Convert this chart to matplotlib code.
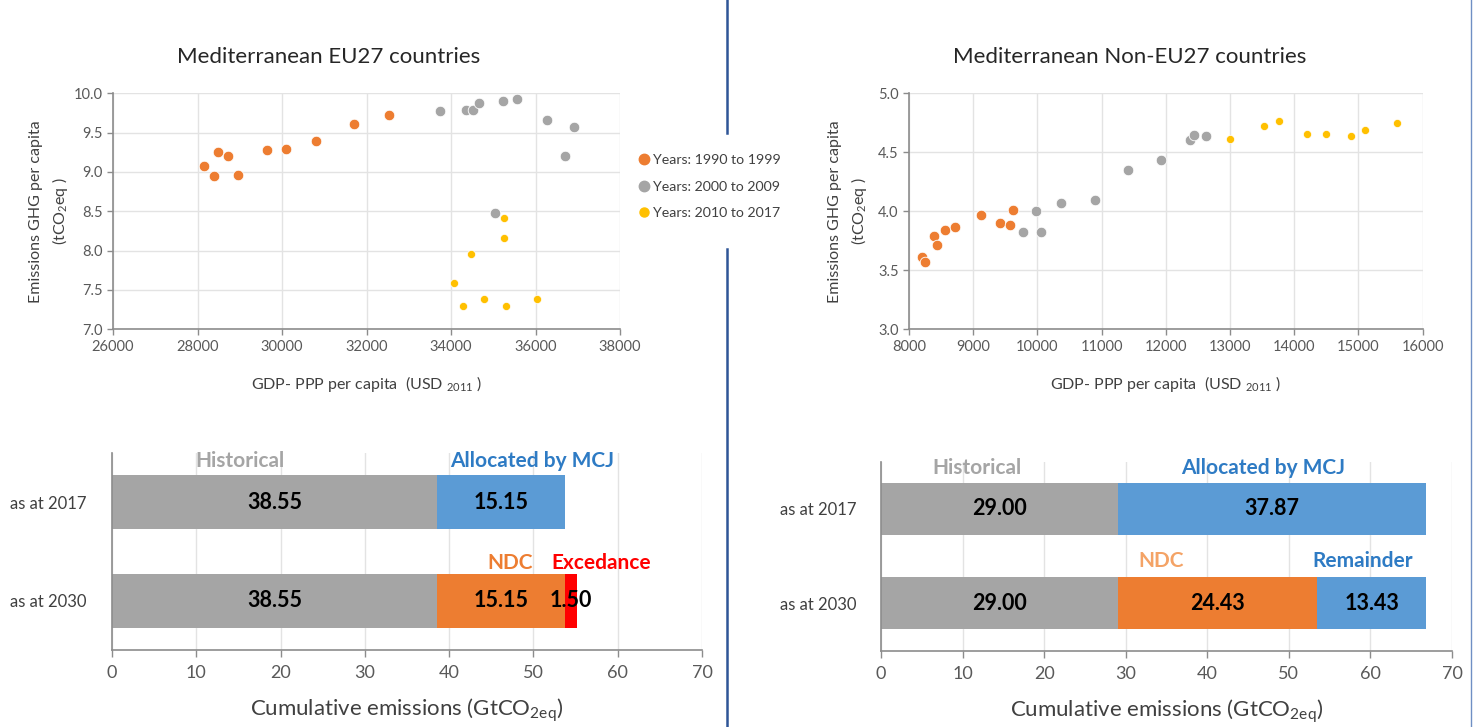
import matplotlib
matplotlib.use("Agg")
import matplotlib.pyplot as plt
from matplotlib.lines import Line2D

plt.rcParams['font.family'] = ['Lato', 'DejaVu Sans']
plt.rcParams['mathtext.fontset'] = 'custom'
plt.rcParams['mathtext.rm'] = 'Lato'
plt.rcParams['mathtext.it'] = 'Lato:italic'
plt.rcParams['mathtext.bf'] = 'Lato:bold'

# ---------------- data ----------------
eu_x_1990 = [28160, 28400, 28490, 28720, 28970, 29640, 30090, 30800, 31700, 32540]
eu_y_1990 = [9.07, 8.95, 9.26, 9.20, 8.96, 9.28, 9.29, 9.39, 9.61, 9.73]
eu_x_2000 = [33740, 34360, 34530, 34670, 35230, 35560, 36280, 36920, 36690, 35050]
eu_y_2000 = [9.78, 9.79, 9.79, 9.88, 9.90, 9.93, 9.66, 9.57, 9.20, 8.48]
eu_x_2010 = [35260, 35260, 34480, 34070, 34280, 34770, 35290, 36040]
eu_y_2010 = [8.42, 8.16, 7.96, 7.59, 7.29, 7.39, 7.29, 7.39]

ne_x_1990 = [8210, 8245, 8385, 8432, 8561, 8717, 9128, 9414, 9580, 9627]
ne_y_1990 = [3.615, 3.573, 3.79, 3.717, 3.844, 3.87, 3.966, 3.898, 3.886, 4.011]
ne_x_2000 = [9777, 9974, 10048, 10364, 10894, 11403, 11918, 12374, 12441, 12623]
ne_y_2000 = [3.827, 4.003, 3.827, 4.068, 4.098, 4.35, 4.432, 4.604, 4.647, 4.641]
ne_x_2010 = [12993, 13533, 13757, 14197, 14493, 14888, 15106, 15600]
ne_y_2010 = [4.613, 4.723, 4.765, 4.658, 4.658, 4.641, 4.686, 4.745]

legend_labels = ['Years: 1990 to 1999', 'Years: 2000 to 2009', 'Years: 2010 to 2017']

bar_categories = ['as at 2017', 'as at 2030']
eu_historical = [38.55, 38.55]
eu_allocated = [15.15, 0.0]
eu_ndc = [0.0, 15.15]
eu_excedance = [0.0, 1.50]

ne_historical = [29.00, 29.00]
ne_allocated = [37.87, 0.0]
ne_ndc = [0.0, 24.43]
ne_remainder = [0.0, 13.43]

# ---------------- style ----------------
C_OR = '#ED7D31'
C_GR = '#A5A5A5'
C_YE = '#FFC000'
C_BL = '#5B9BD5'
C_RD = '#FF0000'
GRID = '#E3E3E3'
SPINE = '#8C8C8C'
TXT = '#404040'

W, H = 1478, 727
fig = plt.figure(figsize=(W / 100, H / 100), dpi=100)
fig.patch.set_facecolor('white')


def fax(l, t, r, b):
    return fig.add_axes([l / W, 1 - b / H, (r - l) / W, (b - t) / H])


def style_scatter(ax):
    for s in ['top', 'right']:
        ax.spines[s].set_visible(False)
    for s in ['left', 'bottom']:
        ax.spines[s].set_color(SPINE)
        ax.spines[s].set_linewidth(1.2)
    ax.grid(True, color=GRID, linewidth=1.0)
    ax.set_axisbelow(True)
    ax.tick_params(axis='both', colors=SPINE, labelcolor='#595959', labelsize=10.5,
                   length=4, width=1.0, direction='out')


# ---- top-left scatter ----
ax1 = fax(113, 93.3, 620, 329.3)
ax1.scatter(eu_x_1990, eu_y_1990, s=58, color=C_OR, edgecolors='white', linewidths=0.6, zorder=3)
ax1.scatter(eu_x_2000, eu_y_2000, s=58, color=C_GR, edgecolors='white', linewidths=0.6, zorder=3)
ax1.scatter(eu_x_2010, eu_y_2010, s=34, color=C_YE, edgecolors='white', linewidths=0.5, zorder=3)
ax1.set_xlim(26000, 38000)
ax1.set_ylim(7.0, 10.0)
ax1.set_xticks(range(26000, 38001, 2000))
ax1.set_yticks([7.0, 7.5, 8.0, 8.5, 9.0, 9.5, 10.0])
ax1.yaxis.set_major_formatter(matplotlib.ticker.FormatStrFormatter('%.1f'))
style_scatter(ax1)
ax1.set_ylabel('Emissions GHG per capita\n(tCO$_2$eq )', fontsize=11.5, color=TXT, linespacing=1.45)
ax1.yaxis.set_label_coords(-0.085, 0.5)
ax1.set_xlabel('GDP- PPP per capita  (USD $_{2011}$ )', fontsize=11.5, color=TXT)
ax1.xaxis.set_label_coords(0.5, -0.19)
fig.text(329 / W, 1 - 57 / H, 'Mediterranean EU27 countries', ha='center', va='center',
         fontsize=16, color='#262626')

# ---- top-right scatter ----
ax2 = fax(909, 93.3, 1422.7, 329.3)
ax2.scatter(ne_x_1990, ne_y_1990, s=58, color=C_OR, edgecolors='white', linewidths=0.6, zorder=3)
ax2.scatter(ne_x_2000, ne_y_2000, s=58, color=C_GR, edgecolors='white', linewidths=0.6, zorder=3)
ax2.scatter(ne_x_2010, ne_y_2010, s=34, color=C_YE, edgecolors='white', linewidths=0.5, zorder=3)
ax2.set_xlim(8000, 16000)
ax2.set_ylim(3.0, 5.0)
ax2.set_xticks(range(8000, 16001, 1000))
ax2.set_yticks([3.0, 3.5, 4.0, 4.5, 5.0])
ax2.yaxis.set_major_formatter(matplotlib.ticker.FormatStrFormatter('%.1f'))
style_scatter(ax2)
ax2.set_ylabel('Emissions GHG per capita\n(tCO$_2$eq )', fontsize=11.5, color=TXT, linespacing=1.45)
ax2.yaxis.set_label_coords(-0.078, 0.5)
ax2.set_xlabel('GDP- PPP per capita  (USD $_{2011}$ )', fontsize=11.5, color=TXT)
ax2.xaxis.set_label_coords(0.5, -0.19)
fig.text(1130 / W, 1 - 57 / H, 'Mediterranean Non-EU27 countries', ha='center', va='center',
         fontsize=16, color='#262626')

# ---- legend ----
leg_handles = [Line2D([], [], marker='o', linestyle='none', markersize=7.5, color=C_OR),
               Line2D([], [], marker='o', linestyle='none', markersize=7.5, color=C_GR),
               Line2D([], [], marker='o', linestyle='none', markersize=6.5, color=C_YE)]
fig.legend(leg_handles, legend_labels, loc='upper left', bbox_to_anchor=(633 / W, 1 - 148 / H),
           frameon=False, fontsize=10.2, labelcolor=TXT, handlelength=0.8, handletextpad=0.2,
           labelspacing=1.05, borderpad=0.4, borderaxespad=0)

# ---- divider lines ----
fig.add_artist(Line2D([727 / W, 727 / W], [1, 1 - 133 / H], color='#2F5597', linewidth=1.8))
fig.add_artist(Line2D([727 / W, 727 / W], [1 - 249 / H, 0], color='#2F5597', linewidth=1.8))
fig.add_artist(Line2D([1471 / W, 1471 / W], [1, 0], color='#6F8FC4', linewidth=1.0))


def style_bar(ax):
    for s in ['top', 'right']:
        ax.spines[s].set_visible(False)
    for s in ['left', 'bottom']:
        ax.spines[s].set_color(SPINE)
        ax.spines[s].set_linewidth(1.2)
    ax.grid(True, axis='x', color=GRID, linewidth=1.0)
    ax.set_axisbelow(True)
    ax.tick_params(axis='x', colors=SPINE, labelcolor='#595959', labelsize=13, length=5, width=1.0, pad=6)
    ax.tick_params(axis='y', length=0, labelcolor=TXT, labelsize=12, pad=18)
    ax.set_xlim(0, 70)
    ax.set_xticks(range(0, 71, 10))
    ax.set_ylim(1.5, -0.5)


def seg_labels(ax, lefts, widths, fmt='%.2f'):
    for i, (l, w) in enumerate(zip(lefts, widths)):
        if w > 0:
            ax.text(l + w / 2, i, fmt % w, ha='center', va='center', fontsize=15.5,
                    fontweight='bold', color='black', zorder=5)


ypos = list(range(len(bar_categories)))
BH = 0.55
LBL = 15

# ---- bottom-left bars ----
ax3 = fax(112, 453, 702, 650)
ax3.barh(ypos, eu_historical, height=BH, color=C_GR)
left2 = list(eu_historical)
ax3.barh(ypos, eu_allocated, left=left2, height=BH, color=C_BL)
ax3.barh(ypos, eu_ndc, left=left2, height=BH, color=C_OR)
left3 = [a + b + c for a, b, c in zip(eu_historical, eu_allocated, eu_ndc)]
ax3.barh(ypos, eu_excedance, left=left3, height=BH, color=C_RD)
seg_labels(ax3, [0, 0], eu_historical)
seg_labels(ax3, left2, eu_allocated)
seg_labels(ax3, left2, eu_ndc)
seg_labels(ax3, left3, eu_excedance)
ax3.set_yticks(ypos)
ax3.set_yticklabels(bar_categories)
style_bar(ax3)
ax3.set_xlabel('Cumulative emissions (GtCO$_{\\mathrm{2eq}}$)', fontsize=16, color=TXT, labelpad=11)
ax3.text(15.2, -0.42, 'Historical', ha='center', va='center', fontsize=LBL, fontweight='bold', color=C_GR)
ax3.text(49.8, -0.42, 'Allocated by MCJ', ha='center', va='center', fontsize=LBL, fontweight='bold', color='#2E7BC4')
ax3.text(47.2, 0.62, 'NDC', ha='center', va='center', fontsize=LBL, fontweight='bold', color=C_OR)
ax3.text(58.0, 0.62, 'Excedance', ha='center', va='center', fontsize=LBL, fontweight='bold', color=C_RD)

# ---- bottom-right bars ----
ax4 = fax(881, 461.7, 1452, 650.7)
ax4.barh(ypos, ne_historical, height=BH, color=C_GR)
nleft2 = list(ne_historical)
ax4.barh(ypos, ne_allocated, left=nleft2, height=BH, color=C_BL)
ax4.barh(ypos, ne_ndc, left=nleft2, height=BH, color=C_OR)
nleft3 = [a + b + c for a, b, c in zip(ne_historical, ne_allocated, ne_ndc)]
ax4.barh(ypos, ne_remainder, left=nleft3, height=BH, color=C_BL)
seg_labels(ax4, [0, 0], ne_historical)
seg_labels(ax4, nleft2, ne_allocated)
seg_labels(ax4, nleft2, ne_ndc)
seg_labels(ax4, nleft3, ne_remainder)
ax4.set_yticks(ypos)
ax4.set_yticklabels(bar_categories)
style_bar(ax4)
ax4.set_xlabel('Cumulative emissions (GtCO$_{\\mathrm{2eq}}$)', fontsize=16, color=TXT, labelpad=11)
ax4.text(11.8, -0.43, 'Historical', ha='center', va='center', fontsize=LBL, fontweight='bold', color=C_GR)
ax4.text(46.9, -0.43, 'Allocated by MCJ', ha='center', va='center', fontsize=LBL, fontweight='bold', color='#2E7BC4')
ax4.text(34.3, 0.55, 'NDC', ha='center', va='center', fontsize=LBL, fontweight='bold', color='#F4A366')
ax4.text(59.1, 0.55, 'Remainder', ha='center', va='center', fontsize=LBL, fontweight='bold', color='#2E7BC4')

fig.savefig('out.png', dpi=100, facecolor='white')
